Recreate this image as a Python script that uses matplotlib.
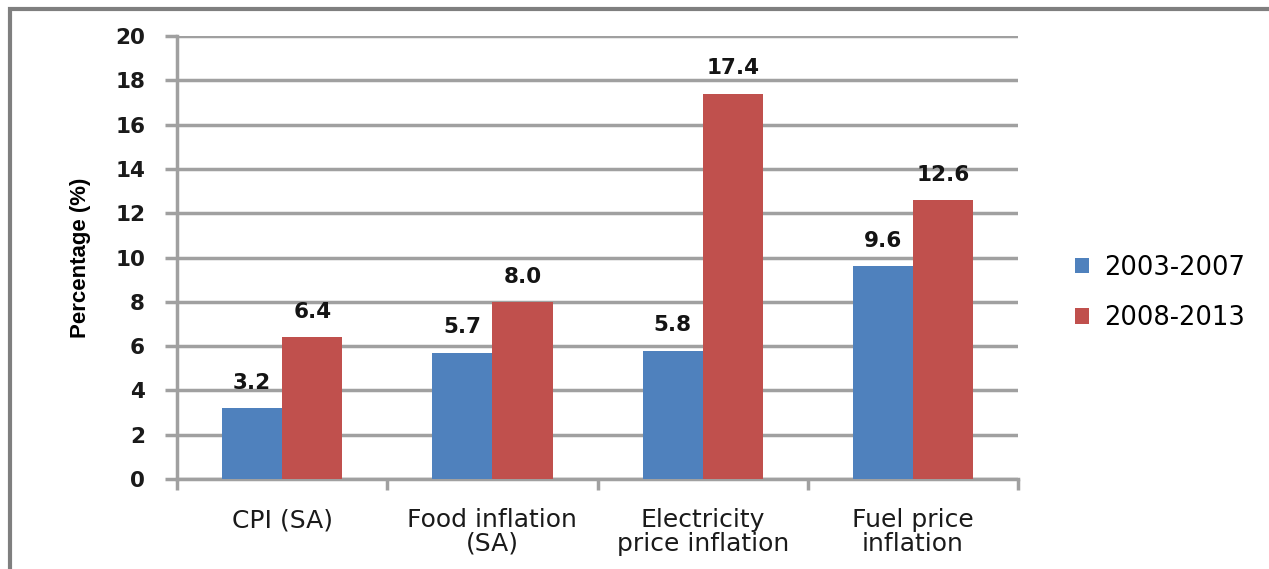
import matplotlib.pyplot as plt
import numpy as np
from matplotlib.patches import Rectangle

# data
categories = ["CPI (SA)", "Food inflation\n(SA)", "Electricity\nprice inflation", "Fuel price\ninflation"]
series_names = ["2003-2007", "2008-2013"]
vals_2003_2007 = [3.2, 5.7, 5.8, 9.6]
vals_2008_2013 = [6.4, 8.0, 17.4, 12.6]
colors = ["#4f81bd", "#c0504d"]

fig = plt.figure(figsize=(12.69, 5.69), dpi=100)
ax = fig.add_axes([0.1395, 0.1582, 0.6627, 0.7785])

# outer chart frame (runs off the right/bottom edge like the screenshot)
fig.patches.append(Rectangle((10 / 1269, -0.05), 1.1, 1 - 9 / 569 + 0.05,
                             transform=fig.transFigure, fill=False,
                             edgecolor="#7f7f7f", linewidth=3))

x = np.arange(len(categories))
w = 0.286
b1 = ax.bar(x - w / 2, vals_2003_2007, w, color=colors[0], label=series_names[0], zorder=3)
b2 = ax.bar(x + w / 2, vals_2008_2013, w, color=colors[1], label=series_names[1], zorder=3)

for bars in (b1, b2):
    for r in bars:
        ax.annotate("%.1f" % r.get_height(), (r.get_x() + r.get_width() / 2, r.get_height()),
                    xytext=(0, 11), textcoords="offset points", ha="center", va="bottom",
                    fontsize=15.5, fontweight="bold", color="#141414")

ax.set_ylim(0, 20)
ax.set_yticks(range(0, 21, 2))
ax.set_xlim(-0.5, len(categories) - 0.5)
ax.yaxis.grid(True, color="#a0a0a0", linewidth=2.5, zorder=0)
ax.set_axisbelow(True)

ax.set_xticks(x)
ax.set_xticklabels(categories, fontsize=18, color="#1a1a1a", linespacing=0.98)
ax.tick_params(axis="x", length=0, pad=21)
ax.set_xticks(np.arange(-0.5, len(categories), 1), minor=True)
ax.tick_params(axis="x", which="minor", length=8, width=2.5, color="#a0a0a0", direction="out")
ax.tick_params(axis="y", length=9, width=2.5, color="#a0a0a0", labelsize=15.5, pad=14)
for lab in ax.get_yticklabels():
    lab.set_fontweight("bold")
    lab.set_color("#1a1a1a")

for s in ["top", "right"]:
    ax.spines[s].set_visible(False)
for s in ["left", "bottom"]:
    ax.spines[s].set_color("#a0a0a0")
    ax.spines[s].set_linewidth(2.5)

ax.set_ylabel("Percentage (%)", fontsize=16, fontweight="bold",
              family=["Liberation Sans", "DejaVu Sans"], labelpad=17)

ax.legend(loc="center left", bbox_to_anchor=(1.04, 0.42), frameon=False,
          fontsize=18.5, handlelength=0.55, handleheight=0.55, handletextpad=0.6,
          labelspacing=0.95)

fig.savefig("out.png", dpi=100)
